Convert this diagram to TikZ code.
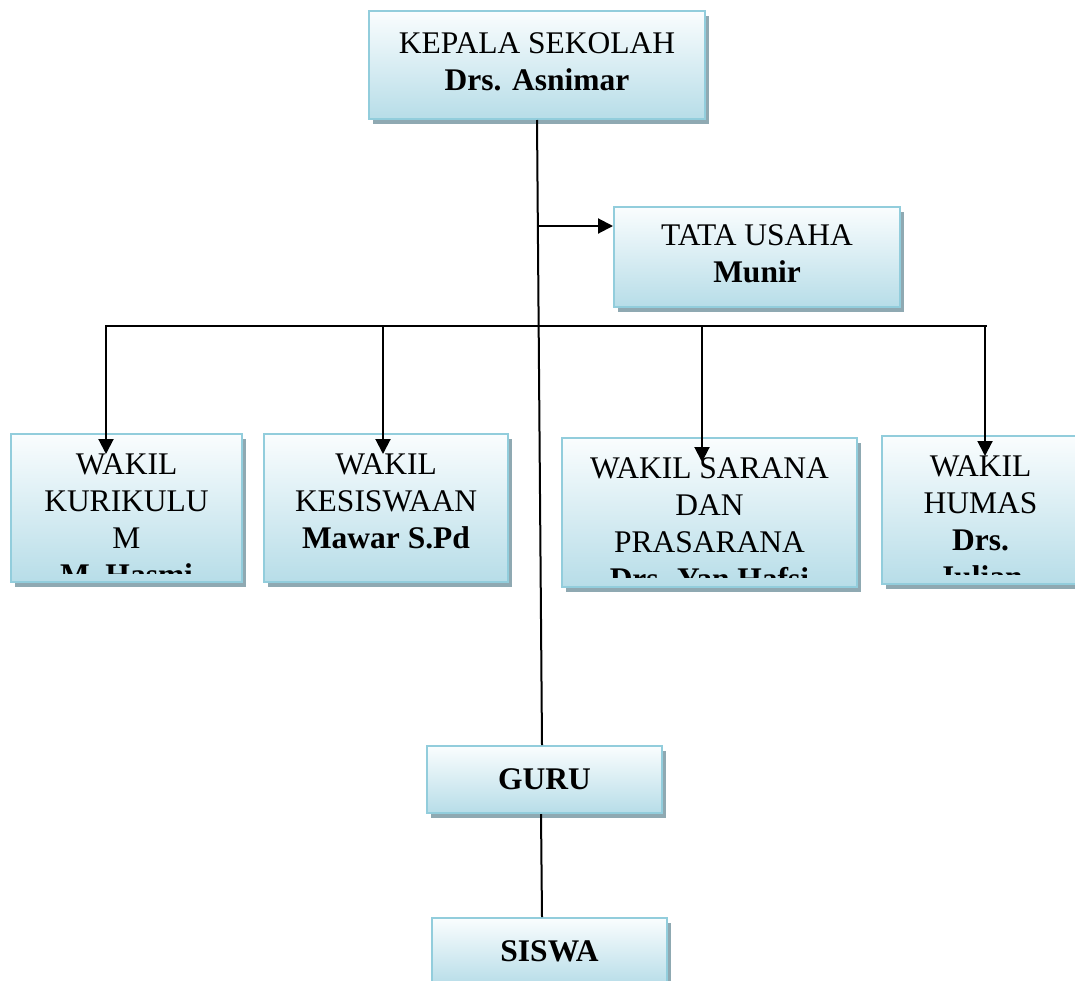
\documentclass[tikz,border=0pt]{standalone}
\usepackage{fontspec}
\setmainfont{Liberation Serif}
\usetikzlibrary{arrows.meta,shadows}
\definecolor{boxborder}{RGB}{146,205,220}
\definecolor{boxbottom}{RGB}{183,221,232}
\definecolor{boxtop}{RGB}{250,253,254}
\definecolor{shadowc}{RGB}{143,169,178}
\tikzset{
  orgbox/.style={rectangle, draw=boxborder, line width=2pt, top color=boxtop, bottom color=boxbottom,
    inner sep=0pt, font=\fontsize{31.5}{37}\selectfont,
    drop shadow={shadow xshift=4pt, shadow yshift=-5pt, fill=shadowc, opacity=1}},
  lbl/.style={font=\fontsize{31.5}{37}\selectfont, align=center, inner sep=0pt, anchor=north},
  conn/.style={line width=2pt, black},
  arr/.style={conn, -{Triangle[length=15pt,width=15pt]}},
}
\begin{document}
\begin{tikzpicture}[x=1pt,y=-1pt]
\useasboundingbox (0,0) rectangle (1075,980);

% boxes
\node[orgbox, minimum width=336pt, minimum height=108pt] (kep) at (537,65) {};
\node[lbl] (kept) at (537,32) {KEPALA SEKOLAH\\\textbf{Drs. Asnimar}};

\node[orgbox, minimum width=286pt, minimum height=100pt] (tata) at (757,257) {};
\node[lbl] (tatat) at (757,224) {TATA USAHA\\\textbf{Munir}};

\node[orgbox, minimum width=231pt, minimum height=148pt] (kur) at (126.5,508) {};
\begin{scope}
  \clip ([yshift=10pt]kur.south west) rectangle (kur.north east);
  \node[lbl] (kurt) at (126.5,453) {WAKIL\\KURIKULU\\M\\\textbf{M. Hasmi}};
\end{scope}

\node[orgbox, minimum width=244pt, minimum height=148pt] (kes) at (386,508) {};
\node[lbl] (kest) at (386,453) {WAKIL\\KESISWAAN\\\textbf{Mawar S.Pd}};

\node[orgbox, minimum width=295pt, minimum height=149pt] (sar) at (709.5,512.5) {};
\begin{scope}
  \clip ([yshift=11pt]sar.south west) rectangle (sar.north east);
  \node[lbl] (sart) at (709.5,457) {WAKIL SARANA\\DAN\\PRASARANA\\\textbf{Drs. Yan Hafsi}};
\end{scope}

\node[orgbox, minimum width=197pt, minimum height=148pt] (hum) at (980.5,510) {};
\begin{scope}
  \clip ([yshift=11pt]hum.south west) rectangle (hum.north east);
  \node[lbl] (humt) at (980.5,455) {WAKIL\\HUMAS\\\textbf{Drs.}\\\textbf{Julian}};
\end{scope}

\node[orgbox, minimum width=235pt, minimum height=67pt] (guru) at (544.5,779.5) {\textbf{GURU}};
\node[orgbox, minimum width=235pt, minimum height=67pt] (siswa) at (549.5,951.5) {\textbf{SISWA}};

% connectors
\draw[conn] (kep.south) -- ([xshift=-2.5pt]guru.north);
\coordinate (tu) at (537.5,226);
\draw[arr] (tu) -- (tu -| tata.west);

\coordinate (hl) at (105,326);
\coordinate (hr) at (987,326);
\draw[conn] (hl) -- (hr);

\coordinate (b1) at (106,326);
\coordinate (b2) at (383,326);
\coordinate (b3) at (702,326);
\coordinate (b4) at (985,326);
\coordinate (e1) at (106,454);
\coordinate (e2) at (383,454);
\coordinate (e3) at (702,462);
\coordinate (e4) at (985,456);
\draw[arr] (b1) -- (e1);
\draw[arr] (b2) -- (e2);
\draw[arr] (b3) -- (e3);
\draw[arr] (b4) -- (e4);

\draw[conn] ([xshift=-3.5pt]guru.south) -- ([xshift=-7.5pt]siswa.north);
\end{tikzpicture}
\end{document}
